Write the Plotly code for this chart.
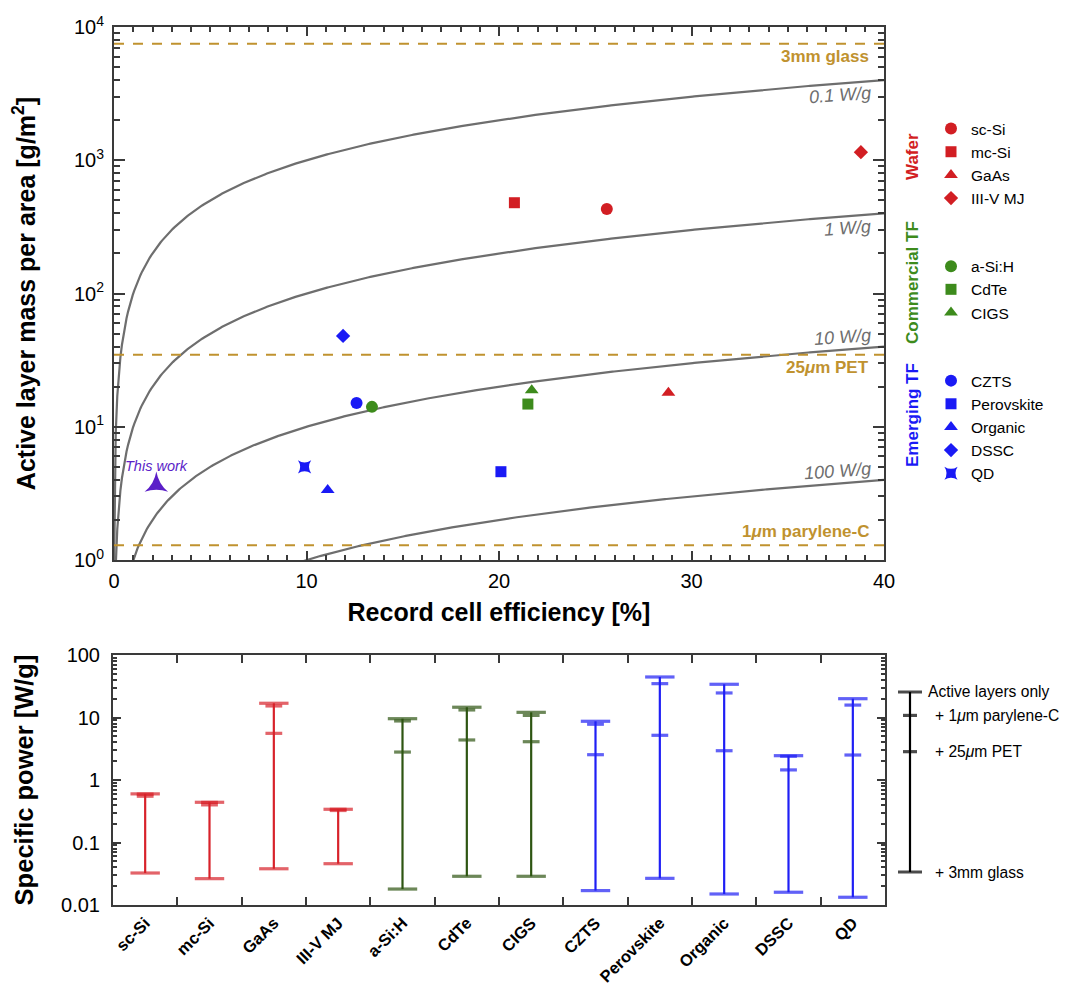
import numpy as np
import plotly.graph_objects as go

# ---------------- data ----------------
categories = ["sc-Si", "mc-Si", "GaAs", "III-V MJ", "a-Si:H", "CdTe", "CIGS",
              "CZTS", "Perovskite", "Organic", "DSSC", "QD"]
category_group = [0, 0, 0, 0, 1, 1, 1, 2, 2, 2, 2, 2]
group_names = ["Wafer", "Commercial TF", "Emerging TF"]

# top panel: record efficiency [%] and active layer mass per area [g/m2]
efficiency = [25.6, 20.8, 28.8, 38.8, 13.4, 21.5, 21.7, 12.6, 20.1, 11.1, 11.9, 9.9]
mass_per_area = [430, 480, 18, 1150, 14.1, 14.8, 18.8, 15.1, 4.6, 3.35, 48, 5.0]
this_work_eff = [2.2]
this_work_mass = [3.65]

# iso specific-power lines [W/g]
power_levels = [0.1, 1, 10, 100]
power_labels = ["0.1 W/g", "1 W/g", "10 W/g", "100 W/g"]
eff_grid = np.linspace(0.01, 40, 500)

# encapsulation masses [g/m2]
encap_labels = ["3mm glass", "25<i>μ</i>m PET", "1<i>μ</i>m parylene-C"]
encap_mass = [7500, 34.75, 1.289]

# bottom panel: specific power [W/g]
sp_active = [0.60, 0.44, 16.9, 0.34, 9.57, 14.6, 12.1, 8.7, 44.5, 34.0, 2.45, 20.0]
sp_parylene = [0.595, 0.438, 15.3, 0.34, 8.8, 13.2, 10.8, 7.8, 34.8, 24.7, 2.4, 15.8]
sp_pet = [0.55, 0.40, 5.58, 0.325, 2.8, 4.37, 4.1, 2.54, 5.19, 2.94, 1.45, 2.51]
sp_glass = [0.0325, 0.0264, 0.038, 0.0458, 0.018, 0.0288, 0.0288, 0.017, 0.0267, 0.015, 0.016, 0.0133]

key_values = [25.6, 10.8, 2.84, 0.0337]
key_labels = ["Active layers only", "+ 1<i>μ</i>m parylene-C", "+ 25<i>μ</i>m PET", "+ 3mm glass"]

x_range = [0, 40]

# ---------------- styles ----------------
FONT = "Liberation Sans, Arial, Helvetica, sans-serif"
OFF = 8  # default page body margin
W, H = 1073 - OFF, 987 - OFF
top_colors = ["#D21E23", "#3D8B1C", "#1A1AF5"]
bottom_colors = ["#D8222A", "#2E5512", "#1F1FF5"]
symbols = ["circle", "square", "triangle-up", "diamond", "circle", "square", "triangle-up",
           "circle", "square", "triangle-up", "diamond", "star-square"]
sizes = [12, 11, 12, 11, 12, 11, 12, 12, 11, 12, 11, 12]
gold = "#C0922F"
gray = "#6E6E6E"
axcol = "#3A3A3A"
purple = "#5B1FC8"


def px_x(p):
    return (p - OFF) / W


def px_y(p):
    return 1 - (p - OFF) / H


fig = go.Figure()

# iso-power curves
for P in power_levels:
    fig.add_trace(go.Scatter(x=eff_grid, y=eff_grid * 10.0 / P, mode="lines",
                             line=dict(color=gray, width=2.2), showlegend=False,
                             hoverinfo="skip", xaxis="x", yaxis="y"))

# encapsulation dashed lines
for m in encap_mass:
    fig.add_trace(go.Scatter(x=x_range, y=[m, m], mode="lines",
                             line=dict(color=gold, width=2, dash="10px,9px"),
                             showlegend=False, hoverinfo="skip", xaxis="x", yaxis="y"))

# data points
for i, cat in enumerate(categories):
    g = category_group[i]
    fig.add_trace(go.Scatter(x=[efficiency[i]], y=[mass_per_area[i]], mode="markers",
                             name=cat, legendgroup=group_names[g],
                             marker=dict(symbol=symbols[i], size=sizes[i], color=top_colors[g],
                                         line=dict(width=0)),
                             xaxis="x", yaxis="y"))

fig.add_trace(go.Scatter(x=this_work_eff, y=this_work_mass, mode="markers", showlegend=False,
                         marker=dict(symbol="star-triangle-up", size=17, color=purple,
                                     line=dict(width=0)),
                         xaxis="x", yaxis="y"))

# bottom panel: range bars
for g in range(3):
    idx = [i for i in range(len(categories)) if category_group[i] == g]
    lx, ly = [], []
    for i in idx:
        lx += [categories[i], categories[i], None]
        ly += [sp_glass[i], sp_active[i], None]
    fig.add_trace(go.Scatter(x=lx, y=ly, mode="lines", line=dict(color=bottom_colors[g], width=2.2),
                             showlegend=False, hoverinfo="skip", xaxis="x2", yaxis="y2"))
    cx, cy, cs = [], [], []
    for i in idx:
        cx += [categories[i]] * 4
        cy += [sp_active[i], sp_parylene[i], sp_pet[i], sp_glass[i]]
        cs += [21, 12, 12, 21]
    fig.add_trace(go.Scatter(x=cx, y=cy, mode="markers",
                             marker=dict(symbol="line-ew", size=cs, color=bottom_colors[g],
                                         line=dict(color=bottom_colors[g], width=3.2)),
                             showlegend=False, xaxis="x2", yaxis="y2"))

# key bar (own hidden axes sharing the bottom panel's scale)
fig.add_trace(go.Scatter(x=[0, 0], y=[key_values[3], key_values[0]], mode="lines",
                         line=dict(color="black", width=2.2), showlegend=False,
                         xaxis="x3", yaxis="y3"))
fig.add_trace(go.Scatter(x=[0] * 4, y=key_values, mode="markers",
                         marker=dict(symbol="line-ew", size=[24, 10, 10, 24], color="black",
                                     line=dict(color="black", width=3.2)),
                         showlegend=False, xaxis="x3", yaxis="y3"))

annotations = []
# iso-power labels
shifts = [-15, -15, 10, 9]
for P, lab, ys in zip(power_levels, power_labels, shifts):
    annotations.append(dict(x=x_range[1], y=np.log10(x_range[1] * 10.0 / P), xref="x", yref="y",
                            text="<i>" + lab + "</i>", showarrow=False, xanchor="right",
                            yanchor="middle", xshift=-10, yshift=ys, textangle=-4,
                            font=dict(family=FONT, size=18, color=gray)))
# encapsulation labels
eshifts = [-13, -13, 14]
for lab, m, ys in zip(encap_labels, encap_mass, eshifts):
    annotations.append(dict(x=x_range[1], y=np.log10(m), xref="x", yref="y",
                            text="<b>" + lab + "</b>", showarrow=False, xanchor="right",
                            yanchor="middle", xshift=-13, yshift=ys,
                            font=dict(family=FONT, size=17, color=gold)))
# this work
annotations.append(dict(x=this_work_eff[0], y=np.log10(this_work_mass[0]), xref="x", yref="y",
                        text="<i>This work</i>", showarrow=False, yshift=19,
                        font=dict(family=FONT, size=14.5, color=purple)))
# group titles
group_y = [157, 283, 415]
for g in range(3):
    annotations.append(dict(x=px_x(912), y=px_y(group_y[g]), xref="paper", yref="paper",
                            xanchor="center", yanchor="middle",
                            text="<b>" + group_names[g] + "</b>", showarrow=False, textangle=-90,
                            font=dict(family=FONT, size=17, color=top_colors[g])))
# key labels
key_x = [926, 933, 933, 933]
for lab, v, kx in zip(key_labels, key_values, key_x):
    annotations.append(dict(x=px_x(kx), y=np.log10(v), xref="paper", yref="y3", text=lab,
                            showarrow=False, xanchor="left", yanchor="middle",
                            font=dict(family=FONT, size=15.6, color="black")))

top_minor = [m * 10 ** e for e in range(0, 4) for m in range(2, 10)]
bot_minor = [m * 10.0 ** e for e in range(-2, 2) for m in range(2, 10)]

common_ax = dict(showline=True, linecolor=axcol, linewidth=2, mirror="allticks", ticks="inside",
                 tickcolor=axcol, tickwidth=1.5, showgrid=False, zeroline=False,
                 automargin=False)

fig.update_layout(
    width=W, height=H, margin=dict(l=0, r=0, t=0, b=0, autoexpand=False),
    paper_bgcolor="white", plot_bgcolor="white",
    font=dict(family=FONT, color="black"),
    showlegend=True,
    legend=dict(x=px_x(931), y=px_y(112), xanchor="left", yanchor="top",
                traceorder="grouped", tracegroupgap=45, font=dict(family=FONT, size=15.5),
                bgcolor="rgba(0,0,0,0)", itemwidth=30),
    xaxis=dict(domain=[px_x(114), px_x(884)], anchor="y", range=x_range,
               tickmode="array", tickvals=list(range(0, 41, 10)),
               ticktext=["0", "10", "20", "30", "40"], ticklen=9,
               minor=dict(tickvals=list(range(0, 41)), ticks="inside", ticklen=5,
                          tickcolor=axcol, showgrid=False),
               tickfont=dict(size=20), ticklabelstandoff=2,
               title=dict(text="<b>Record cell efficiency [%]</b>", font=dict(size=25), standoff=12),
               **common_ax),
    yaxis=dict(domain=[px_y(560), px_y(27)], anchor="x", type="log", range=[0, 4],
               tickmode="array", tickvals=[1, 10, 100, 1000, 10000],
               ticktext=["10<sup>0</sup>", "10<sup>1</sup>", "10<sup>2</sup>", "10<sup>3</sup>",
                         "10<sup>4</sup>"], ticklen=11,
               minor=dict(tickvals=top_minor, ticks="inside", ticklen=6, tickcolor=axcol,
                          showgrid=False),
               tickfont=dict(size=20), ticklabelstandoff=4,
               title=dict(text="<b>Active layer mass per area [g/m<sup>2</sup>]</b>",
                          font=dict(size=25), standoff=34),
               **common_ax),
    xaxis2=dict(domain=[px_x(113), px_x(885)], anchor="y2", type="category",
                categoryorder="array", categoryarray=categories, range=[-0.5, 11.5],
                tickson="boundaries", ticklen=8, tickangle=-45,
                tickfont=dict(size=16.5), tickprefix="<b>", ticksuffix="</b>",
                ticklabelstandoff=0,
                **common_ax),
    yaxis2=dict(domain=[px_y(905), px_y(655)], anchor="x2", type="log", range=[-2, 2],
                tickmode="array", tickvals=[0.01, 0.1, 1, 10, 100],
                ticktext=["0.01", "0.1", "1", "10", "100"], ticklen=8,
                minor=dict(tickvals=bot_minor, ticks="inside", ticklen=4, tickcolor=axcol,
                           showgrid=False),
                tickfont=dict(size=20), ticklabelstandoff=7,
                title=dict(text="<b>Specific power [W/g]</b>", font=dict(size=25.5), standoff=20),
                **common_ax),
    xaxis3=dict(domain=[px_x(898), px_x(922)], anchor="y3", range=[-1, 1], visible=False),
    yaxis3=dict(domain=[px_y(905), px_y(655)], anchor="x3", type="log", range=[-2, 2],
                visible=False),
    annotations=annotations,
)

fig.write_html("out.html")
